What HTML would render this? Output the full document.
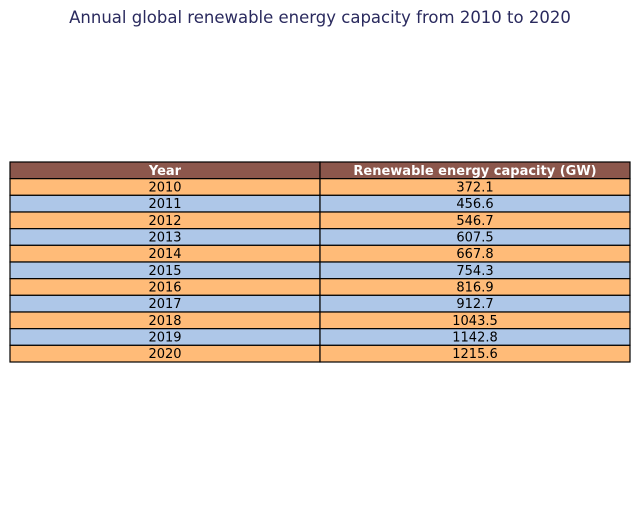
<!DOCTYPE html>
<html><head><meta charset="utf-8"><style>
body{margin:0;width:640px;height:503px;background:#fff;font-family:"DejaVu Sans","Liberation Sans",sans-serif;overflow:hidden}
</style></head><body>
<svg width="640" height="503">
<text x="320" y="23" text-anchor="middle" font-size="16.5" fill="#2a2a5e">Annual global renewable energy capacity from 2010 to 2020</text>
<g id="tbl"></g>
</svg>
<script>
const years=["2010","2011","2012","2013","2014","2015","2016","2017","2018","2019","2020"];
const capacity=["372.1","456.6","546.7","607.5","667.8","754.3","816.9","912.7","1043.5","1142.8","1215.6"];
const headers=["Year","Renewable energy capacity (GW)"];
const g=document.getElementById('tbl');
const NS="http://www.w3.org/2000/svg";
const x0=10,x1=320,x2=630,top0=162,rh=200/12;
function cell(x,y,w,fill,txt,bold,tc,name){
 const r=document.createElementNS(NS,'rect');
 r.setAttribute('x',x);r.setAttribute('y',y);r.setAttribute('width',w);r.setAttribute('height',rh);
 r.setAttribute('fill',fill);r.setAttribute('stroke','#000');r.setAttribute('stroke-width','1.2');
 
 
 g.appendChild(r);
 const t=document.createElementNS(NS,'text');
 t.setAttribute('x',x+w/2);t.setAttribute('y',y+rh/2+4.5);t.setAttribute('text-anchor','middle');
 t.setAttribute('font-size','13');t.setAttribute('fill',tc);if(bold)t.setAttribute('font-weight','bold');
 t.textContent=txt;
 
 
 g.appendChild(t);
}
cell(x0,top0,x1-x0,'#8c574c',headers[0],true,'#fff','header-year');
cell(x1,top0,x2-x1,'#8c574c',headers[1],true,'#fff','header-capacity');
years.forEach((y,i)=>{
 const fill=i%2?'#aec7e8':'#ffbb78';
 const yy=top0+rh*(i+1);
 cell(x0,yy,x1-x0,fill,y,false,'#000','year-'+y);
 cell(x1,yy,x2-x1,fill,capacity[i],false,'#000','capacity-'+y);
});
</script>
</body></html>
